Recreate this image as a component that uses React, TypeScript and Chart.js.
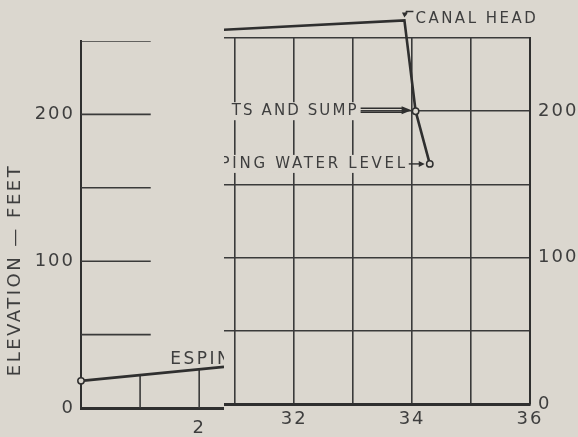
import React, { useEffect, useRef } from 'react';
import { Chart, registerables } from 'chart.js';

Chart.register(...registerables);

// ---------- data: left (broken-off) panel, stations 0 – 2.4 ----------
const leftProfileX = [0, 2.42];
const leftProfileY = [18.5, 28];
const leftPointRadius = [3.2, 0];
const leftGridLevels = [50, 100, 150, 200, 250];
const leftGridReach = 1.18;
const leftStubX = [1, 2];
const leftStubTop = [22.5, 26.3];
const leftYTicks = [0, 50, 100, 150, 200, 250];
const leftYLabels = [0, 100, 200];
const leftXTicks = [0, 1, 2];
const leftXLabels = [2];
const leftNoteText = 'ESPINO';
const leftNoteAt = [1.51, 32.7];

// ---------- data: right panel, stations 30.8 – 36 ----------
const rightProfileX = [30.5, 33.87, 34.06, 34.3];
const rightProfileY = [255, 262, 200, 164];
const rightPointRadius = [0, 3.2, 3.2, 3.2];
const rightXTicks = [31, 32, 33, 34, 35, 36];
const rightXLabels = [32, 34, 36];
const rightYTicks = [0, 50, 100, 150, 200, 250];
const rightYLabels = [0, 100, 200];
const canalHeadText = 'CANAL HEAD';
const sumpText = 'TS AND SUMP';
const pumpText = 'PUMPING WATER LEVEL';
const yTitle = 'ELEVATION — FEET';

// ---------- style ----------
const BG = '#dbd7cf';
const INK = '#2f2f2f';
const GRID = '#3a3a3a';
const TXT = '#3e3e3e';
const FAMILY = '"DejaVu Sans", sans-serif';
const W = 578;
const H = 437;
const SPLIT = 224;

const spacing = (px: string) => ({
  id: 'spacing',
  beforeDraw(chart: any) {
    chart.ctx.letterSpacing = px;
  },
});

function labelWithBg(ctx: any, text: string, x: number, y: number, align: 'left' | 'right') {
  const w = ctx.measureText(text).width;
  const x0 = align === 'right' ? x - w : x;
  ctx.fillStyle = BG;
  ctx.fillRect(x0 - 8, y - 9, w + 10, 18);
  ctx.fillStyle = TXT;
  ctx.textAlign = 'left';
  ctx.fillText(text, x0, y);
}

function arrowHead(ctx: any, tipX: number, tipY: number, dir: number, len = 8, half = 3.5) {
  ctx.beginPath();
  ctx.moveTo(tipX, tipY);
  ctx.lineTo(tipX - dir * len, tipY - half);
  ctx.lineTo(tipX - dir * len, tipY + half);
  ctx.closePath();
  ctx.fill();
}

const leftNotes = {
  id: 'leftNotes',
  beforeDatasetsDraw(chart: any) {
    const { ctx, scales } = chart;
    const { x, y } = scales;
    ctx.save();
    ctx.font = `17px ${FAMILY}`;
    ctx.letterSpacing = '2.5px';
    ctx.textBaseline = 'middle';
    ctx.fillStyle = TXT;
    ctx.textAlign = 'left';
    ctx.fillText(leftNoteText, x.getPixelForValue(leftNoteAt[0]), y.getPixelForValue(leftNoteAt[1]));
    ctx.restore();
  },
  afterDraw(chart: any) {
    const { ctx } = chart;
    ctx.save();
    ctx.translate(15, 270);
    ctx.rotate(-Math.PI / 2);
    ctx.font = `18px ${FAMILY}`;
    ctx.letterSpacing = '2.5px';
    ctx.textAlign = 'center';
    ctx.textBaseline = 'middle';
    ctx.fillStyle = TXT;
    ctx.fillText(yTitle, 0, 0);
    ctx.restore();
  },
};

const rightNotes = {
  id: 'rightNotes',
  beforeDatasetsDraw(chart: any) {
    const { ctx, scales } = chart;
    const { x, y } = scales;
    const px = (i: number) => x.getPixelForValue(rightProfileX[i]);
    const py = (i: number) => y.getPixelForValue(rightProfileY[i]);
    ctx.save();
    ctx.font = `15px ${FAMILY}`;
    ctx.letterSpacing = '2.5px';
    ctx.textBaseline = 'middle';
    ctx.strokeStyle = INK;
    ctx.fillStyle = INK;
    ctx.lineWidth = 1.4;

    // canal head
    const cx = px(1), cy = py(1);
    ctx.fillStyle = TXT;
    ctx.textAlign = 'left';
    ctx.fillText(canalHeadText, cx + 11, cy - 1);
    ctx.strokeStyle = INK;
    ctx.beginPath();
    ctx.moveTo(cx + 9, cy - 9);
    ctx.lineTo(cx + 2, cy - 9);
    ctx.lineTo(cx + 1, cy - 5);
    ctx.stroke();
    ctx.fillStyle = INK;
    ctx.beginPath();
    ctx.moveTo(cx, cy - 3);
    ctx.lineTo(cx - 2.5, cy - 8);
    ctx.lineTo(cx + 3.5, cy - 8);
    ctx.closePath();
    ctx.fill();

    // sump
    const sx = px(2), sy = py(2);
    ctx.letterSpacing = '2.1px';
    labelWithBg(ctx, sumpText, sx - 57, sy, 'right');
    ctx.strokeStyle = INK;
    ctx.fillStyle = INK;
    ctx.beginPath();
    ctx.moveTo(sx - 55, sy - 3);
    ctx.lineTo(sx - 12, sy - 3);
    ctx.moveTo(sx - 55, sy + 1);
    ctx.lineTo(sx - 12, sy + 1);
    ctx.stroke();
    arrowHead(ctx, sx - 4, sy - 1, 1, 10, 4);

    // pumping water level
    const wx = px(3), wy = py(3);
    ctx.letterSpacing = '2.7px';
    labelWithBg(ctx, pumpText, wx - 22, wy, 'right');
    ctx.strokeStyle = INK;
    ctx.fillStyle = INK;
    ctx.beginPath();
    ctx.moveTo(wx - 21, wy);
    ctx.lineTo(wx - 9, wy);
    ctx.stroke();
    arrowHead(ctx, wx - 5, wy, 1, 6, 3);
    ctx.restore();
  },
};

const tickFont = { family: FAMILY, size: 18 };
const toTicks = (vals: number[]) => vals.map((value) => ({ value }));

export default function App() {
  const leftRef = useRef<HTMLCanvasElement>(null);
  const rightRef = useRef<HTMLCanvasElement>(null);

  useEffect(() => {
    const pt = (xs: number[], ys: number[]) => xs.map((x, i) => ({ x, y: ys[i] }));

    const left = new Chart(leftRef.current as HTMLCanvasElement, {
      type: 'line',
      data: {
        datasets: [
          {
            data: pt(leftProfileX, leftProfileY),
            borderColor: INK,
            borderWidth: 2.6,
            pointRadius: leftPointRadius,
            pointBackgroundColor: BG,
            pointBorderColor: INK,
            pointBorderWidth: 1.5,
            clip: false,
          },
          ...leftGridLevels.map((v) => ({
            data: [{ x: 0, y: v }, { x: leftGridReach, y: v }],
            borderColor: GRID,
            borderWidth: 1.6,
            pointRadius: 0,
          })),
          ...leftStubX.map((s, i) => ({
            data: [{ x: s, y: 0 }, { x: s, y: leftStubTop[i] }],
            borderColor: GRID,
            borderWidth: 1.6,
            pointRadius: 0,
          })),
        ],
      } as any,
      options: {
        animation: false,
        responsive: false,
        maintainAspectRatio: false,
        layout: { autoPadding: false, padding: { top: 41, left: 0, right: 0, bottom: 0 } },
        plugins: { legend: { display: false }, tooltip: { enabled: false } },
        scales: {
          x: {
            type: 'linear',
            min: 0,
            max: 2.42,
            grid: { display: false, drawTicks: false },
            border: { display: true, color: INK, width: 3 },
            ticks: {
              autoSkip: false,
              maxRotation: 0,
              padding: 10,
              font: tickFont,
              color: TXT,
              callback: (v: any) => (leftXLabels.includes(v) ? String(v) : ''),
            },
            afterBuildTicks: (s: any) => {
              s.ticks = toTicks(leftXTicks);
            },
            afterFit: (s: any) => {
              s.height = 29;
            },
          },
          y: {
            type: 'linear',
            position: 'left',
            min: 0,
            max: 250,
            grid: { display: false, drawTicks: false },
            border: { display: true, color: INK, width: 2 },
            ticks: {
              autoSkip: false,
              padding: 6,
              font: tickFont,
              color: TXT,
              callback: (v: any) => (leftYLabels.includes(v) ? String(v) : ''),
            },
            afterBuildTicks: (s: any) => {
              s.ticks = toTicks(leftYTicks);
            },
            afterFit: (s: any) => {
              s.width = 81;
            },
          },
        },
      } as any,
      plugins: [spacing('2px'), leftNotes],
    });

    const right = new Chart(rightRef.current as HTMLCanvasElement, {
      type: 'line',
      data: {
        datasets: [
          {
            data: pt(rightProfileX, rightProfileY),
            borderColor: INK,
            borderWidth: 2.6,
            pointRadius: rightPointRadius,
            pointBackgroundColor: BG,
            pointBorderColor: INK,
            pointBorderWidth: 1.5,
            clip: false,
          },
        ],
      } as any,
      options: {
        animation: false,
        responsive: false,
        maintainAspectRatio: false,
        layout: { autoPadding: false, padding: { top: 38, left: 0, right: 0, bottom: 0 } },
        plugins: { legend: { display: false }, tooltip: { enabled: false } },
        scales: {
          x: {
            type: 'linear',
            min: 30.81,
            max: 36,
            grid: { color: GRID, lineWidth: 1.6, drawTicks: false },
            border: { display: true, color: INK, width: 3 },
            ticks: {
              autoSkip: false,
              maxRotation: 0,
              padding: 5,
              font: tickFont,
              color: TXT,
              callback: (v: any) => (rightXLabels.includes(v) ? String(v) : ''),
            },
            afterBuildTicks: (s: any) => {
              s.ticks = toTicks(rightXTicks);
            },
            afterFit: (s: any) => {
              s.height = 33;
            },
          },
          y: {
            type: 'linear',
            position: 'right',
            min: 0,
            max: 250,
            grid: { color: GRID, lineWidth: 1.6, drawTicks: false },
            border: { display: true, color: INK, width: 2 },
            ticks: {
              autoSkip: false,
              padding: 8,
              font: tickFont,
              color: TXT,
              callback: (v: any) => (rightYLabels.includes(v) ? String(v) : ''),
            },
            afterBuildTicks: (s: any) => {
              s.ticks = toTicks(rightYTicks);
            },
            afterFit: (s: any) => {
              s.width = 48;
            },
          },
        },
      } as any,
      plugins: [spacing('2px'), rightNotes],
    });

    return () => {
      left.destroy();
      right.destroy();
    };
  }, []);

  return (
    <div
      style={{
        position: 'fixed',
        left: 0,
        top: 0,
        width: W,
        height: H,
        background: BG,
        overflow: 'hidden',
      }}
    >
      <canvas
        ref={leftRef}
        width={SPLIT}
        height={H}
        style={{ position: 'absolute', left: 0, top: 0 }}
      />
      <canvas
        ref={rightRef}
        width={W - SPLIT}
        height={H}
        style={{ position: 'absolute', left: SPLIT, top: 0 }}
      />
    </div>
  );
}
